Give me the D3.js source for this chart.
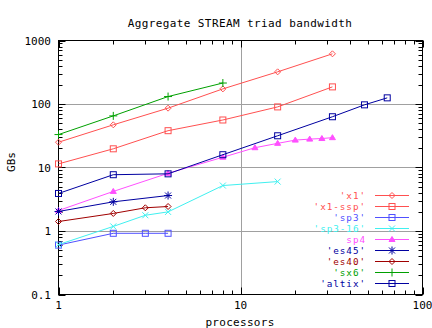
<!DOCTYPE html>
<html><head><meta charset="utf-8">
<script src="https://cdn.jsdelivr.net/npm/d3@7"></script>
<style>body{margin:0;background:#fff}text{font-family:"DejaVu Sans Mono",monospace;font-size:11px;fill:#000}</style>
</head><body><svg id="c" width="432" height="328"></svg>
<script>
const title = "Aggregate STREAM triad bandwidth";
const xLabel = "processors";
const yLabel = "GBs";
const xTicks = [1, 10, 100];
const yTicks = [0.1, 1, 10, 100, 1000];

const x1_x = [1, 2, 4, 8, 16, 32];
const x1_y = [25, 47, 86, 173, 321, 617];
const x1ssp_x = [1, 2, 4, 8, 16, 32];
const x1ssp_y = [11.4, 19.7, 38, 56, 90, 186];
const sp3_x = [1, 2, 3, 4];
const sp3_y = [0.6, 0.92, 0.92, 0.92];
const sp316_x = [1, 2, 3, 4, 8, 16];
const sp316_y = [0.61, 1.18, 1.77, 2.0, 5.2, 6.0];
const sp4_x = [1, 2, 4, 8, 12, 16, 20, 24, 28, 32];
const sp4_y = [2.1, 4.2, 8.1, 14.5, 20.5, 24, 27, 28, 28.6, 29.5];
const es45_x = [1, 2, 4];
const es45_y = [2.03, 2.88, 3.62];
const es40_x = [1, 2, 3, 4];
const es40_y = [1.41, 1.89, 2.32, 2.43];
const sx6_x = [1, 2, 4, 8];
const sx6_y = [33, 65, 131, 214];
const altix_x = [1, 2, 4, 8, 16, 32, 48, 64];
const altix_y = [3.9, 7.7, 7.95, 15.9, 31.6, 63, 97, 125];

const seriesNames = ["'x1'", "'x1-ssp'", "'sp3'", "'sp3-16'", "sp4", "'es45'", "'es40'", "'sx6'", "'altix'"];
const seriesColors = ["#ff5050", "#ff5050", "#5050ff", "#40f0f0", "#ff50ff", "#0000a0", "#a00000", "#00a000", "#0000a0"];
const seriesMarkers = ["diamond", "square", "square", "x", "triangle", "star", "diamond", "plus", "square"];
const seriesX = [x1_x, x1ssp_x, sp3_x, sp316_x, sp4_x, es45_x, es40_x, sx6_x, altix_x];
const seriesY = [x1_y, x1ssp_y, sp3_y, sp316_y, sp4_y, es45_y, es40_y, sx6_y, altix_y];

const L = 58.5, R = 422.5, T = 40.5, B = 294.5;
const svg = d3.select("#c");
const xs = d3.scaleLog().domain([1, 100]).range([L, R]);
const ys = d3.scaleLog().domain([0.1, 1000]).range([B, T]);

// grid
const g = svg.append("g");
g.selectAll("line.gy").data(yTicks.slice(1, -1)).enter().append("line")
  .attr("x1", L).attr("x2", R).attr("y1", d => Math.round(ys(d)) + 0.5).attr("y2", d => Math.round(ys(d)) + 0.5)
  .attr("stroke", "#a0a0a0").attr("stroke-width", 1);
g.selectAll("line.gx").data(xTicks.slice(1, -1)).enter().append("line")
  .attr("y1", T).attr("y2", B).attr("x1", d => Math.round(xs(d)) + 0.5).attr("x2", d => Math.round(xs(d)) + 0.5)
  .attr("stroke", "#a0a0a0").attr("stroke-width", 1);

// ticks
const minorX = [], minorY = [];
for (let e = 0; e < 2; e++) for (let m = 2; m < 10; m++) minorX.push(m * Math.pow(10, e));
for (let e = -1; e < 3; e++) for (let m = 2; m < 10; m++) minorY.push(m * Math.pow(10, e));
const tk = svg.append("g").attr("stroke", "#000").attr("stroke-width", 1);
const px = v => Math.round(xs(v)) + 0.5, py = v => Math.round(ys(v)) + 0.5;
xTicks.forEach(v => { tk.append("line").attr("x1", px(v)).attr("x2", px(v)).attr("y1", B).attr("y2", B - 7);
  tk.append("line").attr("x1", px(v)).attr("x2", px(v)).attr("y1", T).attr("y2", T + 7); });
minorX.forEach(v => { tk.append("line").attr("x1", px(v)).attr("x2", px(v)).attr("y1", B).attr("y2", B - 4);
  tk.append("line").attr("x1", px(v)).attr("x2", px(v)).attr("y1", T).attr("y2", T + 4); });
yTicks.forEach(v => { tk.append("line").attr("y1", py(v)).attr("y2", py(v)).attr("x1", L).attr("x2", L + 7);
  tk.append("line").attr("y1", py(v)).attr("y2", py(v)).attr("x1", R).attr("x2", R - 7); });
minorY.forEach(v => { tk.append("line").attr("y1", py(v)).attr("y2", py(v)).attr("x1", L).attr("x2", L + 4);
  tk.append("line").attr("y1", py(v)).attr("y2", py(v)).attr("x1", R).attr("x2", R - 4); });

svg.append("rect").attr("x", L).attr("y", T).attr("width", R - L).attr("height", B - T)
  .attr("fill", "none").attr("stroke", "#000").attr("stroke-width", 1);

// tick labels
svg.selectAll("text.xt").data(xTicks).enter().append("text")
  .attr("x", d => xs(d)).attr("y", 309).attr("text-anchor", "middle").text(d => d);
svg.selectAll("text.yt").data(yTicks).enter().append("text")
  .attr("x", 51).attr("y", d => ys(d) + 4).attr("text-anchor", "end").text(d => d);

svg.append("text").attr("x", 240).attr("y", 27).attr("text-anchor", "middle")
  .style("letter-spacing", "0.4px").text(title);
svg.append("text").attr("x", 240).attr("y", 326).attr("text-anchor", "middle")
  .style("letter-spacing", "0.3px").text(xLabel);
svg.append("text").attr("transform", "translate(15,162) rotate(-90)").attr("text-anchor", "middle").text(yLabel);

function marker(sel, type, color) {
  const s = 3;
  if (type === "square") sel.append("rect").attr("x", -s).attr("y", -s).attr("width", 2 * s).attr("height", 2 * s)
    .attr("fill", "none").attr("stroke", color);
  else if (type === "diamond") sel.append("path").attr("d", `M${-s},0L0,${-s}L${s},0L0,${s}Z`).attr("fill", "none").attr("stroke", color);
  else if (type === "triangle") sel.append("path").attr("d", `M${-s},${s - 1}L0,${-s}L${s},${s - 1}Z`).attr("fill", color).attr("stroke", color);
  else if (type === "plus") sel.append("path").attr("d", `M${-s - 1},0H${s + 1}M0,${-s - 1}V${s + 1}`).attr("stroke", color);
  else if (type === "x") sel.append("path").attr("d", `M${-s},${-s}L${s},${s}M${-s},${s}L${s},${-s}`).attr("stroke", color);
  else if (type === "star") sel.append("path").attr("d", `M${-s},${-s}L${s},${s}M${-s},${s}L${s},${-s}M${-s - 1},0H${s + 1}M0,${-s - 1}V${s + 1}`).attr("stroke", color);
}

const line = d3.line().x(d => xs(d[0])).y(d => ys(d[1]));
seriesNames.forEach((name, i) => {
  const data = seriesX[i].map((xv, j) => [xv, seriesY[i][j]]);
  svg.append("path").datum(data).attr("d", line).attr("fill", "none").attr("stroke", seriesColors[i]).attr("stroke-width", 1);
  data.forEach(d => marker(svg.append("g").attr("transform", `translate(${xs(d[0])},${ys(d[1])})`), seriesMarkers[i], seriesColors[i]));
  const ly = 195 + i * 11;
  svg.append("text").attr("x", 366).attr("y", ly + 3.5).attr("text-anchor", "end")
    .style("fill", seriesColors[i]).style("font-size", "9.3px").style("letter-spacing", "0.95px").text(name);
  svg.append("line").attr("x1", 375).attr("x2", 409).attr("y1", ly + 0.5).attr("y2", ly + 0.5).attr("stroke", seriesColors[i]);
  marker(svg.append("g").attr("transform", `translate(392,${ly + 0.5})`), seriesMarkers[i], seriesColors[i]);
});
</script></body></html>
